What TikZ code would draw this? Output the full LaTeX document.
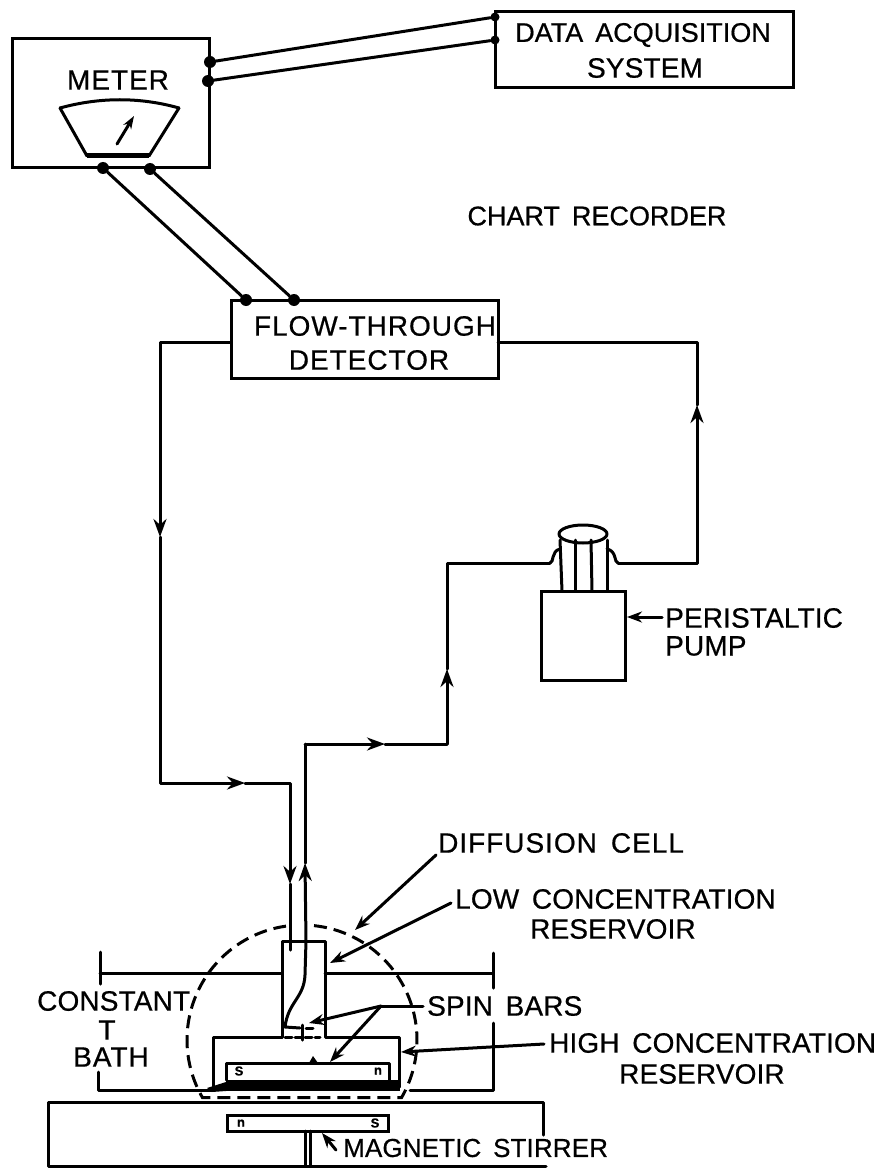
\documentclass[tikz,border=0pt]{standalone}
\usepackage{fontspec}
\setmainfont[FakeBold=0.6,LetterSpace=0.5,WordSpace=1.6]{Liberation Sans}
\usetikzlibrary{arrows.meta}
\tikzset{
  wire/.style={line width=3pt,line join=round,line cap=round},
  flow/.style={wire,-{Stealth[length=18pt,width=13pt]}},
  lead/.style={wire,-{Stealth[length=15pt,width=11pt]}},
  boxn/.style={draw,line width=3pt,inner sep=0pt,outer sep=0pt,anchor=north west},
  lab/.style={inner sep=0pt,font=\fontsize{28}{30}\selectfont},
  wide/.style={lab,font=\fontsize{28}{30}\selectfont\addfontfeatures{LetterSpace=3.5}},
  tight/.style={lab,font=\fontsize{27}{30}\selectfont\addfontfeatures{LetterSpace=0}},
  narrow/.style={lab,font=\fontsize{26}{30}\selectfont},
  pole/.style={inner sep=0pt,font=\bfseries\fontsize{13}{13}\selectfont},
  dot/.style={circle,fill=black,inner sep=0pt,minimum size=12pt}
}
\begin{document}
\begin{tikzpicture}[x=1pt,y=-1pt]
\useasboundingbox (0,0) rectangle (884,1169);
% boxes
\node[boxn,minimum width=197pt,minimum height=129pt] (meter) at (12,39) {};
\node[boxn,minimum width=298pt,minimum height=76pt] (daq) at (495,12) {};
\node[boxn,minimum width=267pt,minimum height=78pt] (det) at (231,300) {};
\node[boxn,minimum width=84pt,minimum height=89pt] (pump) at (541,591) {};
\node[boxn,minimum width=161pt,minimum height=16pt] (mag) at (227,1115) {};
\draw[wire] (543,1135) -- (543,1102) -- (48,1102) -- (48,1166) -- (546,1166);
% labels
\node[wide] (tmeter) at (118,80) {METER};
\node[tight] (tdaq) at (643,35) {DATA ACQUISITION};
\node[lab] (tsys) at (645,68) {SYSTEM};
\node[tight] (tchart) at (597,216) {CHART RECORDER};
\node[wide] (tflow) at (375,326) {FLOW-THROUGH};
\node[wide] (tdetect) at (369,360) {DETECTOR};
\node[lab,anchor=west] (tperi) at (665,618) {PERISTALTIC};
\node[lab,anchor=west] (tpump) at (665,646) {PUMP};
\node[wide,anchor=west] (tdiff) at (438,843) {DIFFUSION CELL};
\node[lab,anchor=west] (tlow) at (455,899) {LOW CONCENTRATION};
\node[lab,anchor=west] (tlow2) at (530,929) {RESERVOIR};
\node[lab,anchor=west] (tcon) at (37,1001) {CONSTANT};
\node[lab] (tt) at (107,1030) {T};
\node[wide] (tbath) at (111,1057) {BATH};
\node[lab,anchor=west] (tspin) at (427,1006) {SPIN BARS};
\node[lab,anchor=west] (thigh) at (549,1043) {HIGH CONCENTRATION};
\node[lab,anchor=west] (thigh2) at (619,1074) {RESERVOIR};
\node[narrow,anchor=west] (tmagn) at (343,1148) {MAGNETIC STIRRER};
% signal wires
\node[dot] (m1) at (210,62) {};
\node[dot] (m2) at (208,81) {};
\node[dot,minimum size=9pt] (d1) at (495,17) {};
\node[dot,minimum size=9pt] (d2) at (495,40) {};
\draw[wire] (m1) -- (d1);
\draw[wire] (m2) -- (d2);
\node[dot] (m3) at (103,168) {};
\node[dot] (m4) at (150,169) {};
\node[dot] (f1) at (246,300) {};
\node[dot] (f2) at (294,300) {};
\draw[wire] (m3) -- (f1);
\draw[wire] (m4) -- (f2);
% dial
\draw[wire] (60,108) .. controls (100,97) and (140,97) .. (179,108);
\draw[wire] (60,108) -- (87,156);
\draw[wire] (179,108) -- (149,156);
\draw[line width=5pt] (87,156) -- (149,156);
\draw[wire,-{Stealth[length=13pt,width=9pt]}] (117,144) -- (134,116);
% pipes
\coordinate (dl) at (231,342);
\coordinate (dr) at (498,342);
\coordinate (c1) at (160,342);
\coordinate (c1m) at (160,537);
\coordinate (c2) at (160,783);
\coordinate (c2m) at (245,783);
\coordinate (c3) at (290,783);
\coordinate (c3m) at (290,884);
\coordinate (c4) at (290,950);
\draw[flow] (dl) -- (c1) -- (c1m);
\draw[flow] (c1m) -- (c2) -- (c2m);
\draw[flow] (c2m) -- (c3) -- (c3m);
\draw[wire] (c3m) -- (c4);
\coordinate (r1) at (697,342);
\coordinate (r1m) at (697,405);
\coordinate (r2) at (697,563);
\coordinate (r3) at (618,563);
\coordinate (l1) at (550,563);
\coordinate (l2) at (447,563);
\coordinate (l2m) at (447,669);
\coordinate (l3) at (447,744);
\coordinate (l3m) at (385,744);
\coordinate (l4) at (305,744);
\coordinate (l4m) at (305,863);
\coordinate (in) at (306,941);
\draw[wire] (dr) -- (r1) -- (r1m);
\draw[flow] (r3) -- (r2) -- (r1m);
\draw[wire] (l1) -- (l2) -- (l2m);
\draw[flow] (l3) -- (l2m);
\draw[flow] (l4) -- (l3m);
\draw[wire] (l3m) -- (l3);
\draw[flow] (in) -- (l4m);
\draw[wire] (l4m) -- (l4);
% pump head
\draw[wire] (r3) .. controls (614,563) and (617,551) .. (607,549);
\draw[wire] (l1) .. controls (554,563) and (551,551) .. (560,549);
\draw[wire] (583,534) ellipse [x radius=24,y radius=9];
\foreach \x/\xb in {560/562,575/575,591/592,607/607}{\draw[wire] (\x,540) -- (\xb,591);}
% cell
\draw[wire] (213,1087) -- (213,1037) -- (282,1037) -- (282,941) -- (325,941) -- (325,1037) -- (399,1037) -- (399,1087);
\draw[wire] (226,1080) -- (226,1063) -- (389,1063) -- (389,1080);
\fill (226,1080) rectangle (400,1091);
\fill (207,1088) -- (226,1082) -- (226,1091) -- (212,1092) -- cycle;
\fill (309,1063) -- (313,1056) -- (318,1063) -- cycle;
% tube in cell
\draw[wire] (306,941) -- (305,975) .. controls (304,998) and (288,1002) .. (285,1027) -- (300,1028);
\draw[wire,dash pattern=on 7pt off 3pt] (285,1037) -- (320,1037);
\draw[wire,dash pattern=on 7pt off 3pt] (306,1028) -- (316,1028);
\draw[wire] (302,1025) -- (302,1040);
% bath
\draw[wire] (100,952) -- (100,984);
\draw[wire] (100,973) -- (282,973);
\draw[wire] (325,973) -- (493,973);
\draw[wire] (493,953) -- (493,988);
\draw[wire] (493,1023) -- (493,1090) -- (410,1090);
\draw[wire] (98,1072) -- (98,1090) -- (213,1090);
% dashed circle, open where the pipes enter
\draw[line width=3pt,dash pattern=on 13pt off 7pt]
  plot[domain=84:-30,samples=45,smooth] ({302+115*cos(\x)},{1040-115*sin(\x)})
  -- plot[domain=210:98,samples=45,smooth] ({302+115*cos(\x)},{1040-115*sin(\x)});
% poles
\node[pole] (p1) at (239,1071) {S};
\node[pole] (p2) at (378,1071) {n};
\node[pole] (p3) at (241,1123) {n};
\node[pole] (p4) at (375,1123) {S};
% shaft
\draw[wire] (305,1131) -- (305,1166);
\draw[wire] (310,1131) -- (310,1166);
% leaders
\coordinate (sdiff) at (436,855);
\coordinate (ldiff) at (355,930);
\coordinate (slow) at (451,903);
\coordinate (llow) at (330,963);
\coordinate (sspin) at (423,1006);
\coordinate (ss) at (381,1006);
\coordinate (sb1) at (309,1023);
\coordinate (sb2) at (330,1062);
\coordinate (shigh) at (544,1044);
\coordinate (hh) at (401,1052);
\coordinate (speri) at (662,617);
\coordinate (pp) at (627,617);
\coordinate (smag) at (336,1150);
\coordinate (mm) at (322,1133);
\draw[lead] (sdiff) -- (ldiff);
\draw[lead] (slow) -- (llow);
\draw[wire] (sspin) -- (ss);
\draw[lead] (ss) -- (sb1);
\draw[lead] (ss) -- (sb2);
\draw[lead] (shigh) -- (hh);
\draw[lead] (speri) -- (pp);
\draw[lead] (smag) -- (mm);
\end{tikzpicture}
\end{document}
